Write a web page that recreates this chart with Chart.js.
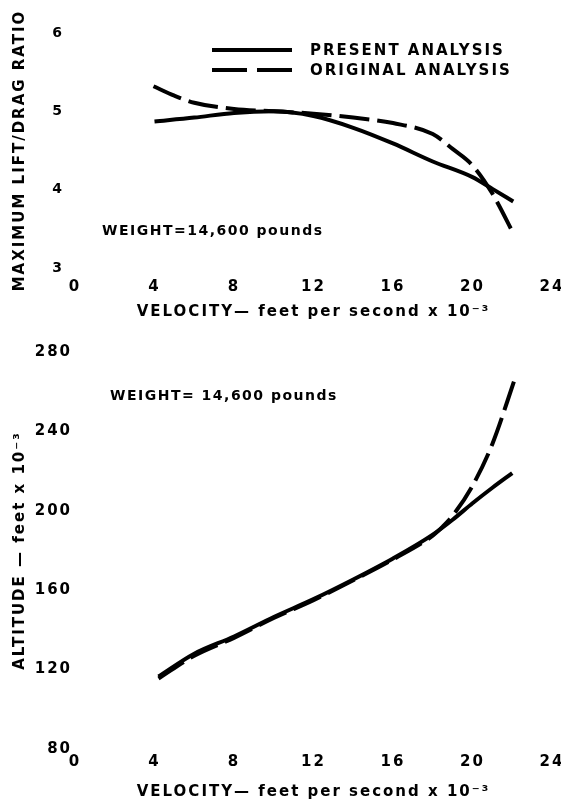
<!DOCTYPE html>
<html>
<head>
<meta charset="utf-8">
<script src="https://cdn.jsdelivr.net/npm/chart.js@4.4.1/dist/chart.umd.min.js"></script>
<style>
  body { margin: 0; background: #fff; }
  #wrap { position: relative; width: 561px; height: 803px; font-family: 'DejaVu Sans', sans-serif; font-weight: bold; color: #000; }
  canvas { position: absolute; left: 0; }
  #liftChart { top: 0; }
  #altChart { top: 330px; }
  .note { position: absolute; font-size: 14px; letter-spacing: 1.5px; white-space: nowrap; line-height: 1; }
  .legend { position: absolute; left: 210px; top: 40px; }
  .legend div { display: flex; align-items: center; height: 20px; font-size: 15px; letter-spacing: 2px; }
  .legend svg { margin-right: 16px; }
</style>
</head>
<body>
<div id="wrap">
  <canvas id="liftChart" width="561" height="330"></canvas>
  <canvas id="altChart" width="561" height="473"></canvas>

  <div class="legend">
    <div><svg width="84" height="8"><line x1="2" y1="4" x2="82" y2="4" stroke="#000" stroke-width="4"/></svg>PRESENT ANALYSIS</div>
    <div><svg width="84" height="8"><line x1="2" y1="4" x2="82" y2="4" stroke="#000" stroke-width="4" stroke-dasharray="35 10"/></svg>ORIGINAL ANALYSIS</div>
  </div>
  <div class="note" style="left:102px; top:223px;">WEIGHT=14,600 pounds</div>
  <div class="note" style="left:110px; top:388px;">WEIGHT= 14,600 pounds</div>
</div>

<script>
// velocity in ft/s x 10^-3
const xTicks = [0, 4, 8, 12, 16, 20, 24];

// max lift/drag ratio
const velPresentLD = [4, 6, 8, 10, 12, 14, 16, 18, 20, 21, 22.05];
const ldPresent = [4.87, 4.92, 4.98, 5.0, 4.94, 4.79, 4.59, 4.36, 4.16, 4.01, 3.85];
const velOriginalLD = [3.95, 5, 6, 8, 10, 12, 14, 16, 18, 19, 20, 21, 22.1];
const ldOriginal = [5.32, 5.2, 5.11, 5.03, 5.0, 4.97, 4.92, 4.85, 4.71, 4.52, 4.31, 3.95, 3.42];

// altitude in ft x 10^-3
const velPresentAlt = [4.2, 6, 8, 10, 12, 14, 16, 18, 19, 20, 21, 22];
const altPresent = [116.5, 128, 136.7, 146.5, 155.5, 165.4, 176, 188, 195.5, 203.8, 211.6, 219];
const velOriginalAlt = [4.2, 6, 8, 10, 12, 14, 16, 18, 18.5, 19, 20, 21, 22.15];
const altOriginal = [115.5, 127, 136, 146, 155, 165, 175.5, 187.5, 192, 197.5, 212.6, 233.7, 267];

Chart.defaults.font.family = "'DejaVu Sans', sans-serif";
Chart.defaults.font.weight = 'bold';
Chart.defaults.color = '#000';

// the old lettering is widely spaced
const spacing = {
  id: 'spacing',
  beforeLayout(chart) { chart.ctx.letterSpacing = '2px'; },
  beforeDraw(chart) { chart.ctx.letterSpacing = '2px'; }
};

function toPoints(xs, ys) {
  return xs.map((x, i) => ({ x: x, y: ys[i] }));
}

function lineSet(label, xs, ys, dashed) {
  return {
    label: label,
    data: toPoints(xs, ys),
    borderColor: '#000',
    borderWidth: 4,
    borderDash: dashed ? [30, 8] : [],
    pointRadius: 0,
    cubicInterpolationMode: 'monotone',
    fill: false
  };
}

function makeChart(id, sets, y, opt) {
  return new Chart(document.getElementById(id), {
    type: 'line',
    data: { datasets: sets },
    plugins: [spacing],
    options: {
      responsive: false,
      animation: false,
      layout: { padding: { top: opt.top, right: 9, left: 0, bottom: 0 } },
      plugins: { legend: { display: false }, tooltip: { enabled: false } },
      scales: {
        x: {
          type: 'linear', min: 0, max: 24,
          grid: { display: false, drawTicks: false },
          border: { display: false },
          afterBuildTicks: s => { s.ticks = xTicks.map(v => ({ value: v })); },
          ticks: { padding: opt.xPad, font: { size: 15 } },
          afterFit: s => { s.height = opt.xHeight; s.paddingLeft = 0; s.paddingRight = 0; },
          title: {
            display: true,
            text: 'VELOCITY— feet per second x 10⁻³',
            font: { size: 15 },
            padding: { top: 0, bottom: opt.xTitlePad }
          }
        },
        y: {
          min: y.min, max: y.max,
          grid: { display: false, drawTicks: false },
          border: { display: false },
          afterBuildTicks: s => { s.ticks = y.ticks.map(v => ({ value: v })); },
          ticks: { padding: opt.yPad, font: { size: opt.yFont } },
          afterFit: s => { s.width = 75; },
          title: {
            display: true,
            text: y.title,
            font: { size: 15 },
            padding: { top: 11, bottom: 0 }
          }
        }
      }
    }
  });
}

makeChart('liftChart', [
  lineSet('PRESENT ANALYSIS', velPresentLD, ldPresent, false),
  lineSet('ORIGINAL ANALYSIS', velOriginalLD, ldOriginal, true)
], { min: 3, max: 6, ticks: [3, 4, 5, 6], title: 'MAXIMUM LIFT/DRAG RATIO' },
   { top: 33, xHeight: 62, xPad: 10, xTitlePad: 9, yPad: 11, yFont: 14 });

makeChart('altChart', [
  lineSet('PRESENT ANALYSIS', velPresentAlt, altPresent, false),
  lineSet('ORIGINAL ANALYSIS', velOriginalAlt, altOriginal, true)
], { min: 80, max: 280, ticks: [80, 120, 160, 200, 240, 280], title: 'ALTITUDE — feet x 10⁻³' },
   { top: 22, xHeight: 54, xPad: 4, xTitlePad: 2, yPad: 3, yFont: 15 });
</script>
</body>
</html>
